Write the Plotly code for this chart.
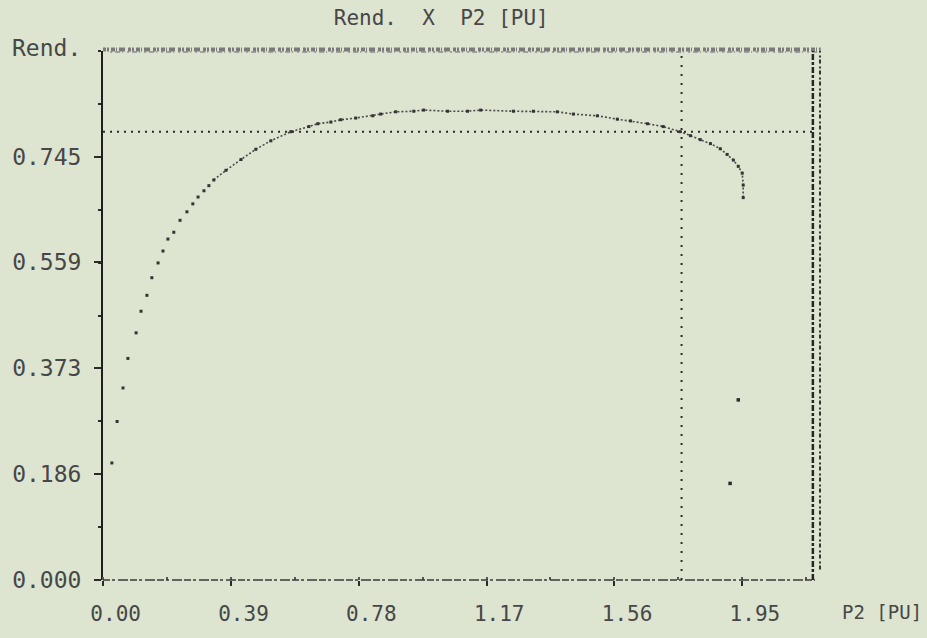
import numpy as np
import plotly.graph_objects as go

# Efficiency (Rend.) versus P2 [PU]
p2 = [0.027, 0.043, 0.061, 0.076, 0.101, 0.116, 0.134, 0.149, 0.168, 0.183,
      0.198, 0.216, 0.235, 0.256, 0.274, 0.290, 0.308, 0.323, 0.338, 0.375,
      0.421, 0.466, 0.512, 0.573, 0.628, 0.655, 0.695, 0.725, 0.771, 0.823,
      0.847, 0.893, 0.948, 0.978, 1.051, 1.112, 1.152, 1.252, 1.313, 1.386,
      1.435, 1.508, 1.569, 1.609, 1.661, 1.709, 1.761, 1.792, 1.822, 1.853,
      1.883, 1.904, 1.923, 1.938, 1.950, 1.953, 1.953]
rend = [0.206, 0.279, 0.338, 0.390, 0.435, 0.473, 0.501, 0.532, 0.558, 0.579,
        0.600, 0.612, 0.633, 0.648, 0.662, 0.674, 0.685, 0.694, 0.704, 0.721,
        0.740, 0.758, 0.773, 0.789, 0.798, 0.803, 0.806, 0.810, 0.813, 0.817,
        0.820, 0.824, 0.825, 0.827, 0.825, 0.825, 0.827, 0.825, 0.825, 0.824,
        0.820, 0.817, 0.811, 0.808, 0.803, 0.798, 0.789, 0.782, 0.775, 0.768,
        0.759, 0.749, 0.739, 0.728, 0.716, 0.695, 0.673]

# isolated points printed below the curve end
stray_p2 = [1.938, 1.913]
stray_rend = [0.317, 0.170]

# cursor position
cursor_p2 = 1.765
cursor_rend = 0.789

x_ticks = [0.0, 0.39, 0.78, 1.17, 1.56, 1.95]
x_labels = ["0.00", "0.39", "0.78", "1.17", "1.56", "1.95"]
y_ticks = [0.0, 0.186, 0.373, 0.559, 0.745]
y_labels = ["0.000", "0.186", "0.373", "0.559", "0.745"]

x_max = 2.172
y_max = 0.931

ink = "#2b2b2b"
text_ink = "#474747"
paper_bg = "#dde4d0"
mono = "DejaVu Sans Mono, Liberation Mono, monospace"

p2_arr = np.array(p2)
rend_arr = np.array(rend)
dense = p2_arr >= 0.33

fig = go.Figure()

# dense part of the curve drawn as a fine dotted trail
fig.add_trace(go.Scatter(
    x=p2_arr[dense], y=rend_arr[dense], mode="lines",
    line=dict(color="#4a4a4a", width=1.6, dash="2px,2px"),
    hoverinfo="skip", showlegend=False))

# plotted points
fig.add_trace(go.Scatter(
    x=p2, y=rend, mode="markers",
    marker=dict(symbol="square", size=3, color="#333333"),
    showlegend=False))

fig.add_trace(go.Scatter(
    x=stray_p2, y=stray_rend, mode="markers",
    marker=dict(symbol="square", size=3.5, color=ink),
    showlegend=False))

# cursor cross lines
fig.add_trace(go.Scatter(
    x=[0, x_max], y=[cursor_rend, cursor_rend], mode="lines",
    line=dict(color=ink, width=2, dash="2px,5px"),
    hoverinfo="skip", showlegend=False))
fig.add_trace(go.Scatter(
    x=[cursor_p2, cursor_p2], y=[0, y_max], mode="lines",
    line=dict(color=ink, width=2, dash="2px,7px"),
    hoverinfo="skip", showlegend=False))

shapes = [
    # bottom axis (broken printed line)
    dict(type="line", xref="paper", yref="paper", x0=0, x1=1, y0=0, y1=0,
         line=dict(color="#3a3a3a", width=1.5, dash="7px,2px,3px,3px,10px,2px")),
    # top border, a ragged printed band
    dict(type="line", xref="paper", yref="paper", x0=0, x1=1.008, y0=1.003, y1=1.003,
         line=dict(color="#7a7a7a", width=4, dash="3px,1px,2px,2px,4px,1px,1px,2px,6px,3px")),
    dict(type="line", xref="paper", yref="paper", x0=0.01, x1=1.008, y0=0.998, y1=0.998,
         line=dict(color="#8a8a8a", width=1.5, dash="2px,3px,5px,2px,1px,4px")),
    # double right border
    dict(type="line", xref="paper", yref="paper", x0=0.997, x1=0.997, y0=0, y1=1,
         line=dict(color="#262626", width=2.5, dash="6px,2px,3px,2px")),
    dict(type="line", xref="paper", yref="paper", x0=1.007, x1=1.007, y0=0.02, y1=1,
         line=dict(color="#333333", width=2, dash="4px,2px,2px,3px")),
]

fig.update_layout(
    width=927, height=638,
    margin=dict(l=102, r=112, t=51, b=50),
    paper_bgcolor=paper_bg, plot_bgcolor=paper_bg,
    font=dict(family=mono, color=text_ink, size=21),
    title=dict(text="Rend.\u00a0\u00a0X\u00a0\u00a0P2\u00a0[PU]", x=0.476, xanchor="center",
               y=0.972, yanchor="middle", font=dict(family=mono, size=21, color=text_ink)),
    shapes=shapes,
    xaxis=dict(range=[0, x_max], showgrid=False, zeroline=False, showline=False,
               tickvals=x_ticks, ticktext=["\u00a0\u00a0" + s for s in x_labels],
               ticks="outside", ticklen=5, tickwidth=1.5, tickcolor=ink,
               ticklabelstandoff=10, tickfont=dict(size=21),
               minor=dict(dtick=0.195, tick0=0, ticks="inside", ticklen=3,
                          tickwidth=1.5, tickcolor="#555")),
    xaxis2=dict(range=[0, x_max], overlaying="x", anchor="y", side="bottom",
                showgrid=False, zeroline=False, showline=False, showticklabels=False,
                tickvals=x_ticks[1:], ticks="inside", ticklen=5, tickwidth=1.5,
                tickcolor=ink),
    yaxis=dict(range=[0, y_max], showgrid=False, zeroline=False, showline=True,
               linecolor="#1e1e1e", linewidth=2,
               tickvals=y_ticks, ticktext=y_labels, ticks="outside", ticklen=7,
               tickwidth=1.5, tickcolor=ink, ticklabelstandoff=8,
               tickfont=dict(size=23),
               minor=dict(dtick=0.0931, tick0=0, ticks="outside", ticklen=3,
                          tickwidth=1.5, tickcolor=ink)),
    yaxis2=dict(range=[0, y_max], overlaying="y", anchor="x", side="left",
                showgrid=False, zeroline=False, showline=False, showticklabels=False,
                tick0=0, dtick=0.0931, ticks="inside", ticklen=4, tickwidth=1.5,
                tickcolor=ink),
    annotations=[
        dict(text="Rend.", xref="paper", yref="paper", x=-0.130, y=1.006,
             xanchor="left", yanchor="middle", showarrow=False,
             font=dict(family=mono, size=23, color=text_ink)),
        dict(text="P2\u00a0[PU]", xref="paper", yref="paper", x=1.153, y=-0.06,
             xanchor="right", yanchor="middle", showarrow=False,
             font=dict(family=mono, size=19, color=text_ink)),
    ],
)

fig.write_html("out.html")
